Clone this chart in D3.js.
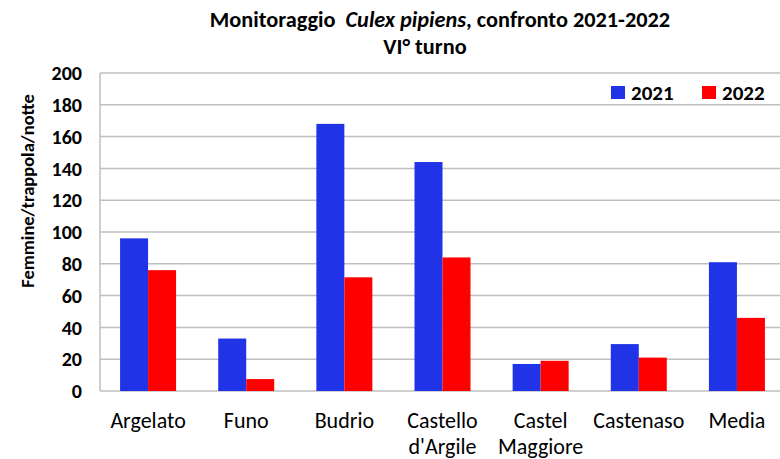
<!DOCTYPE html>
<html>
<head>
    <meta charset="utf-8">
    <script src="https://d3js.org/d3.v7.min.js"></script>
    <style>
        body { margin: 0; background: #fff; }
        text { font-family: Carlito, Lato, "Open Sans", sans-serif; }
    </style>
</head>
<body>
    <script>
        // data
        var sites = ["Argelato", "Funo", "Budrio", "Castello\nd'Argile", "Castel\nMaggiore", "Castenaso", "Media"];
        var years = ["2021", "2022"];
        var values2021 = [96, 33, 168, 144, 17, 29.5, 81];
        var values2022 = [76, 7.5, 71.5, 84, 19, 21, 46];
        var yTicks = [0, 20, 40, 60, 80, 100, 120, 140, 160, 180, 200];
        var colors = ["#2033e6", "#ff0000"];

        var W = 780, H = 459;
        var svg = d3.select("body").append("svg")
            .attr("width", W)
            .attr("height", H);

        // plot area
        var x = d3.scaleBand()
            .domain(sites)
            .range([99, 786]);

        var y = d3.scaleLinear()
            .domain([0, 200])
            .range([391, 73]);

        var barW = 28;

        // gridlines
        svg.append("g")
            .selectAll("line")
            .data(yTicks)
            .enter().append("line")
            .attr("x1", 100)
            .attr("x2", W)
            .attr("y1", function (d) { return y(d); })
            .attr("y2", function (d) { return y(d); })
            .attr("stroke", "#bfbfbf")
            .attr("stroke-width", 1.5);

        // left axis line
        svg.append("line")
            .attr("x1", 100).attr("x2", 100)
            .attr("y1", y(200)).attr("y2", y(0))
            .attr("stroke", "#bfbfbf")
            .attr("stroke-width", 1.5);

        // y tick labels
        svg.append("g")
            .selectAll("text")
            .data(yTicks)
            .enter().append("text")
            .attr("x", 82)
            .attr("y", function (d) { return y(d); })
            .attr("dy", "0.36em")
            .attr("text-anchor", "end")
            .style("font-size", "20px")
            .style("font-weight", "bold")
            .text(function (d) { return d; });

        // bars
        var series = [values2021, values2022];
        series.forEach(function (vals, i) {
            svg.append("g")
                .selectAll("rect")
                .data(vals)
                .enter().append("rect")
                .attr("x", function (d, j) { return x(sites[j]) + x.bandwidth() / 2 - barW + i * barW; })
                .attr("y", function (d) { return y(d); })
                .attr("width", barW)
                .attr("height", function (d) { return y(0) - y(d); })
                .attr("fill", colors[i]);
        });

        // x labels
        var xl = svg.append("g")
            .selectAll("text")
            .data(sites)
            .enter().append("text")
            .attr("x", function (d) { return x(d) + x.bandwidth() / 2; })
            .attr("y", 428)
            .attr("text-anchor", "middle")
            .style("font-size", "22px");
        xl.selectAll("tspan")
            .data(function (d) { return d.split("\n"); })
            .enter().append("tspan")
            .attr("x", function () { return d3.select(this.parentNode).attr("x"); })
            .attr("dy", function (d, i) { return i ? 26 : 0; })
            .text(function (d) { return d; });

        // y axis title
        svg.append("text")
            .attr("transform", "translate(34,191) rotate(-90)")
            .attr("text-anchor", "middle")
            .style("font-size", "18.5px")
            .style("font-weight", "bold")
            .text("Femmine/trappola/notte");

        // title
        var t1 = svg.append("text")
            .attr("x", 440)
            .attr("y", 27)
            .attr("text-anchor", "middle")
            .attr("xml:space", "preserve")
            .style("white-space", "pre")
            .style("font-size", "22.3px")
            .style("font-weight", "bold");
        t1.append("tspan").text("Monitoraggio  ");
        t1.append("tspan").style("font-style", "italic").text("Culex pipiens");
        t1.append("tspan").text(", confronto 2021-2022");

        svg.append("text")
            .attr("x", 425)
            .attr("y", 54)
            .attr("text-anchor", "middle")
            .style("font-size", "22.3px")
            .style("font-weight", "bold")
            .text("VI° turno");

        // legend
        var leg = svg.append("g");
        var legX = [611, 702];
        years.forEach(function (yr, i) {
            leg.append("rect")
                .attr("x", legX[i])
                .attr("y", 86)
                .attr("width", 14)
                .attr("height", 13)
                .attr("fill", colors[i]);
            leg.append("text")
                .attr("x", legX[i] + 20)
                .attr("y", 100)
                .style("font-size", "21px")
                .style("font-weight", "bold")
                .text(yr);
        });
    </script>
</body>
</html>
